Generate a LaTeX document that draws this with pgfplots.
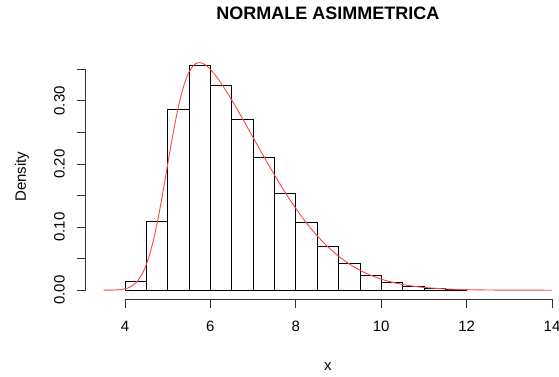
\documentclass[border=0pt]{standalone}
\usepackage{fontspec}
\setmainfont{Liberation Sans}
\usepackage{pgfplots}
\pgfplotsset{compat=1.18}
\definecolor{rred}{RGB}{255,70,70}
\begin{document}
\begin{tikzpicture}
\useasboundingbox (0,0) rectangle (559pt,376pt);
\clip (0,0) rectangle (559pt,376pt);
\begin{axis}[
  at={(85.7pt,76.7pt)}, anchor=south west,
  scale only axis, width=484.3pt, height=245.4pt,
  xmin=3.08, xmax=14.42, ymin=-0.0144, ymax=0.3744,
  axis line style={draw=none},
  xtick pos=bottom, ytick pos=left,
  tick align=outside, major tick length=8.6pt,
  xtick={4,6,8,10,12,14},
  ytick={0,0.05,0.1,0.15,0.2,0.25,0.3,0.35},
  yticklabels={0.00,,0.10,,0.20,,0.30,},
  tick style={black!80, line width=0.8pt},
  /pgf/number format/assume math mode=true,
  ticklabel style={font=\fontsize{15}{18}\selectfont},
  xticklabel shift=10pt,
  yticklabel style={rotate=90, anchor=south},
  yticklabel shift=8.7pt,
  title={NORMALE ASIMMETRICA},
  title style={at={(axis description cs:0.5,1.143)}, anchor=center, font=\fontsize{18}{22}\selectfont\bfseries},
  xlabel={x},
  xlabel style={at={(axis description cs:0.5,-0.272)}, anchor=center, font=\fontsize{15}{18}\selectfont},
  ylabel={Density},
  ylabel style={at={(axis description cs:-0.1315,0.5)}, anchor=center, rotate=0, font=\fontsize{15}{18}\selectfont},
  clip=false,
]
\draw[black!80, line width=0.8pt] (axis cs:4,-0.0144) -- (axis cs:14,-0.0144);
\draw[black!80, line width=0.8pt] (axis cs:3.08,0) -- (axis cs:3.08,0.35);
\addplot[ybar interval, fill=white, draw=black, line width=0.7pt] coordinates {
(4,0.014) (4.5,0.109) (5,0.287) (5.5,0.357) (6,0.325) (6.5,0.270)
(7,0.210) (7.5,0.154) (8,0.107) (8.5,0.070) (9,0.042) (9.5,0.023)
(10,0.012) (10.5,0.006) (11,0.003) (11.5,0.001) (12,0.001)
};
\addplot[rred, line width=0.9pt, smooth, mark=none] coordinates {
(3.5,0.0000266) (3.6,0.0000727) (3.7,0.000186) (3.8,0.00045) (3.9,0.00102)
(4.0,0.00219) (4.1,0.00441) (4.2,0.00838) (4.3,0.01503) (4.4,0.02548)
(4.5,0.04085) (4.6,0.06204) (4.7,0.08940) (4.8,0.12248) (4.9,0.15989)
(5.0,0.19947) (5.1,0.23855) (5.2,0.27448) (5.3,0.30508) (5.4,0.32900)
(5.5,0.34582) (5.6,0.35591) (5.7,0.36021) (5.8,0.35989) (5.9,0.35612)
(6.0,0.34988) (6.1,0.34192) (6.2,0.33277) (6.3,0.32278) (6.4,0.31218)
(6.5,0.30111) (6.6,0.28969) (6.7,0.27798) (6.8,0.26609) (6.9,0.25406)
(7.0,0.24197) (7.2,0.21785) (7.4,0.19419) (7.6,0.17137) (7.8,0.14973)
(8.0,0.12952) (8.2,0.11092) (8.4,0.09405) (8.6,0.07895) (8.8,0.06562)
(9.0,0.05399) (9.2,0.04398) (9.4,0.03547) (9.6,0.02833) (9.8,0.02239)
(10.0,0.01753) (10.2,0.01358) (10.4,0.01042) (10.6,0.00792) (10.8,0.00595)
(11.0,0.00443) (11.4,0.00238) (11.8,0.00123) (12.2,0.00061) (12.6,0.00029)
(13.0,0.000134) (13.5,0.00005) (14.0,0.000016)
};
\end{axis}
\end{tikzpicture}
\end{document}
